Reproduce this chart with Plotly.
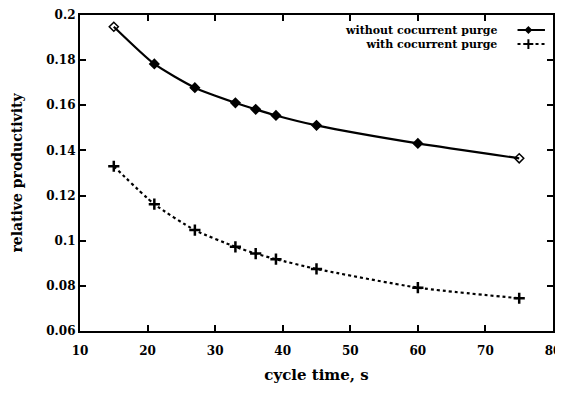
import plotly.graph_objects as go

cycle_time = [15, 21, 27, 33, 36, 39, 45, 60, 75]
without_purge = [0.1948, 0.1783, 0.1678, 0.1611, 0.1582, 0.1555, 0.1511, 0.1431, 0.1365]
with_purge = [0.1330, 0.1162, 0.1047, 0.0973, 0.0943, 0.0918, 0.0875, 0.0792, 0.0745]
x_ticks = [10, 20, 30, 40, 50, 60, 70, 80]
y_ticks = [0.06, 0.08, 0.1, 0.12, 0.14, 0.16, 0.18, 0.2]
y_tick_text = ["0.06", "0.08", "0.1", "0.12", "0.14", "0.16", "0.18", "0.2"]
series_names = ["without cocurrent purge", "with cocurrent purge"]

FONT = "DejaVu Serif"

fig = go.Figure()
n = len(cycle_time)
fig.add_trace(go.Scatter(
    x=cycle_time, y=without_purge, mode="lines+markers", name=series_names[0],
    line=dict(color="black", width=2.2, shape="spline", smoothing=0.6),
    marker=dict(symbol=["diamond-open"] + ["diamond"] * (n - 2) + ["diamond-open"],
                size=7, color="black", line=dict(color="black", width=1.5)),
    showlegend=False,
))
fig.add_trace(go.Scatter(
    x=cycle_time, y=with_purge, mode="lines+markers", name=series_names[1],
    line=dict(color="black", width=2.2, dash="dot", shape="spline", smoothing=0.6),
    marker=dict(symbol="cross-thin", size=8, color="black",
                line=dict(color="black", width=2.5)),
    showlegend=False,
))

# gnuplot-style legend: text right-aligned, sample on the right
legend_y = [0.9525, 0.908]
fig.add_annotation(xref="paper", yref="paper", x=0.885, y=sum(legend_y) / 2,
                   text="<br>".join("<b>" + s + "</b>" for s in series_names),
                   showarrow=False, xanchor="right", yanchor="middle", align="right",
                   font=dict(family=FONT, size=11, color="black"))
for i, yy in enumerate(legend_y):
    fig.add_shape(type="line", xref="paper", yref="paper", x0=0.925, x1=0.983, y0=yy, y1=yy,
                  line=dict(color="black", width=2, dash="solid" if i == 0 else "dot"))
fig.add_trace(go.Scatter(
    x=[0.948], y=[legend_y[0]], xaxis="x2", yaxis="y2", mode="markers",
    marker=dict(symbol="diamond", size=6, color="black"), showlegend=False, hoverinfo="skip"))
fig.add_trace(go.Scatter(
    x=[0.948], y=[legend_y[1]], xaxis="x2", yaxis="y2", mode="markers",
    marker=dict(symbol="cross-thin", size=7, color="black", line=dict(color="black", width=2)),
    showlegend=False, hoverinfo="skip"))

axis_common = dict(
    showline=True, linecolor="black", linewidth=2.2, mirror="ticks",
    ticks="inside", ticklen=6, tickwidth=1.8, tickcolor="black",
    showgrid=False, zeroline=False, automargin=False,
    tickfont=dict(family=FONT, size=12, color="black"),
)

fig.update_layout(
    width=547, height=377,
    margin=dict(l=72, r=2, t=7, b=54),
    paper_bgcolor="white", plot_bgcolor="white",
    font=dict(family=FONT, color="black"),
    xaxis=dict(range=[10, 80], tickvals=x_ticks, ticktext=["<b>%d</b>" % v for v in x_ticks],
               ticklabeloverflow="allow", ticklabelstandoff=7,
               title=dict(text="<b>cycle time, s</b>", font=dict(family=FONT, size=15), standoff=13),
               **axis_common),
    yaxis=dict(range=[0.06, 0.2], tickvals=y_ticks, ticktext=["<b>%s</b>" % t for t in y_tick_text],
               title=dict(text="<b>relative productivity</b>", font=dict(family=FONT, size=14), standoff=20),
               **axis_common),
    xaxis2=dict(range=[0, 1], overlaying="x", visible=False),
    yaxis2=dict(range=[0, 1], overlaying="y", visible=False),
)

fig.write_html("out.html")
